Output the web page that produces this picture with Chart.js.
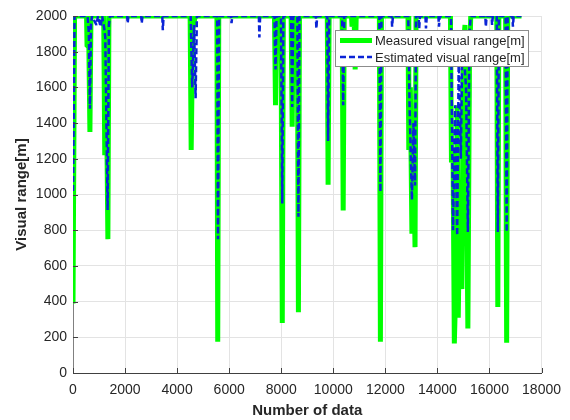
<!DOCTYPE html>
<html>
<head>
<meta charset="utf-8">
<script src="https://cdn.jsdelivr.net/npm/chart.js@4.4.0/dist/chart.umd.min.js"></script>
<style>
  body { margin: 0; background: #fff; }
  #wrap { width: 570px; height: 420px; }
</style>
</head>
<body>
<div id="wrap"><canvas id="rangeChart" width="570" height="420"></canvas></div>
<script>
// Values (sample index, visual range in m)
const measuredX = [0, 60, 520, 540, 610, 650, 690, 1180, 1220, 1290, 1340, 1380,
    4500, 4540, 4600, 4700, 5530, 5560, 5600, 7740, 7780, 7820, 7990, 8040, 8080,
    8380, 8420, 8460, 8620, 8660, 8700, 9770, 9800, 9840, 10340, 10380, 10420,
    10700, 10720, 10760, 10800, 10840, 10880, 11770, 11810, 11850,
    12870, 12900, 12960, 13020, 13080, 13140, 13180,
    14500, 14540, 14600, 14650, 14700, 14760, 14800, 14860, 14940, 15000, 15060,
    15110, 15170, 15230, 15280, 16280, 16320, 16360, 16620, 16660, 16700, 17230];
const measuredY = [390, 2000, 2000, 1830, 1830, 1350, 2000, 2000, 1220, 1500, 750, 2000,
    2000, 1250, 1930, 2000, 2000, 175, 2000, 2000, 1500, 2000, 2000, 280, 2000,
    2000, 1380, 2000, 2000, 340, 2000, 2000, 1055, 2000, 2000, 910, 2000,
    2000, 1940, 2000, 2000, 1700, 2000, 2000, 175, 2000,
    2000, 1250, 1600, 780, 1300, 705, 2000,
    2000, 1180, 1250, 165, 450, 1500, 310, 950, 470, 1850, 1950,
    1300, 250, 1700, 2000, 2000, 370, 2000, 2000, 170, 2000, 2000];

const estimatedX = [0, 60, 560, 610, 650, 690, 730, 900, 960, 1060, 1120,
    1200, 1240, 1330, 1380, 1420, 2080, 2100, 2130, 2620, 2640, 2670, 3430, 3450, 3480,
    4520, 4580, 4650, 4710, 4760, 5540, 5570, 5610, 6070, 6090, 6120, 7140, 7160, 7190,
    7740, 7780, 7820, 7990, 8040, 8080, 8380, 8420, 8460, 8620, 8660, 8700,
    9330, 9350, 9380, 9770, 9800, 9840, 10340, 10380, 10420, 11770, 11810, 11850,
    12240, 12260, 12290, 12880, 12930, 13020, 13080, 13140, 13180,
    13280, 13300, 13330, 13540, 13560, 13590, 14040, 14060, 14090,
    14520, 14600, 14680, 14760, 14820, 14900, 14960, 15100, 15170, 15230, 15280,
    15840, 15860, 15890, 16080, 16100, 16130, 16280, 16320, 16360,
    16620, 16660, 16700, 16880, 16900, 16930, 17230];
const estimatedY = [1020, 2000, 2000, 1900, 1480, 1950, 2000, 1950, 2000, 1940, 2000,
    1930, 1880, 913, 1950, 2000, 2000, 1960, 2000, 2000, 1960, 2000, 2000, 1920, 2000,
    2000, 1600, 1950, 1540, 2000, 2000, 750, 2000, 2000, 1960, 2000, 2000, 1880, 2000,
    2000, 1700, 2000, 2000, 950, 2000, 2000, 1490, 2000, 2000, 875, 2000,
    2000, 1930, 2000, 2000, 1300, 2000, 2000, 1500, 2000, 2000, 1015, 2000,
    2000, 1940, 2000, 2000, 1500, 970, 1400, 1050, 2000,
    2000, 1930, 2000, 2000, 1930, 2000, 2000, 1940, 2000,
    2000, 800, 1500, 770, 1800, 1200, 1900, 1600, 790, 1900, 2000,
    2000, 1940, 2000, 2000, 1950, 2000, 2000, 790, 2000,
    2000, 790, 2000, 2000, 1940, 2000, 2000];

const seriesLabels = ['Measured visual range[m]', 'Estimated visual range[m]'];
const xTitle = 'Number of data';
const yTitle = 'Visual range[m]';
const xTicks = [0, 2000, 4000, 6000, 8000, 10000, 12000, 14000, 16000, 18000];
const yTicks = [0, 200, 400, 600, 800, 1000, 1200, 1400, 1600, 1800, 2000];

const GREEN = 'rgb(0,255,0)';
const BLUE = '#0b24d6';
const FONT = '"Liberation Sans", Arial, sans-serif';

function toPoints(xs, ys) {
    return xs.map(function (x, i) { return { x: x, y: ys[i] }; });
}

// MATLAB-like legend box sitting inside the plot
const boxLegend = {
    id: 'boxLegend',
    afterDraw: function (chart) {
        const ctx = chart.ctx;
        const bx = 335, by = 30, bw = 193, bh = 36;
        ctx.save();
        ctx.fillStyle = '#fff';
        ctx.fillRect(bx, by, bw, bh);
        ctx.strokeStyle = '#8c8c8c';
        ctx.lineWidth = 1;
        ctx.strokeRect(bx + 0.5, by + 0.5, bw, bh);
        ctx.font = '13px ' + FONT;
        ctx.textBaseline = 'middle';
        ctx.fillStyle = '#262626';
        chart.data.datasets.forEach(function (ds, i) {
            const cy = by + 10.5 + i * 16.5;
            ctx.beginPath();
            ctx.strokeStyle = ds.borderColor;
            ctx.lineWidth = ds.borderWidth;
            ctx.setLineDash(ds.borderDash || []);
            ctx.moveTo(340, cy);
            ctx.lineTo(372, cy);
            ctx.stroke();
            ctx.setLineDash([]);
            ctx.fillText(ds.label, 375, cy + 1);
        });
        ctx.restore();
    }
};

// small inward tick marks on the left and bottom axes
const innerTicks = {
    id: 'innerTicks',
    afterDatasetsDraw: function (chart) {
        const ctx = chart.ctx;
        const a = chart.chartArea;
        ctx.save();
        ctx.strokeStyle = '#404040';
        ctx.lineWidth = 1;
        ctx.beginPath();
        xTicks.forEach(function (v) {
            const px = Math.round(chart.scales.x.getPixelForValue(v)) + 0.5;
            ctx.moveTo(px, a.bottom);
            ctx.lineTo(px, a.bottom - 5);
        });
        yTicks.forEach(function (v) {
            const py = Math.round(chart.scales.y.getPixelForValue(v)) + 0.5;
            ctx.moveTo(a.left, py);
            ctx.lineTo(a.left + 5, py);
        });
        ctx.stroke();
        ctx.restore();
    }
};

function plainNumber(v) { return String(v); }

new Chart(document.getElementById('rangeChart'), {
    type: 'line',
    data: {
        datasets: [{
            label: seriesLabels[0],
            data: toPoints(measuredX, measuredY),
            borderColor: GREEN,
            borderWidth: 5,
            borderJoinStyle: 'bevel',
            pointRadius: 0,
            tension: 0,
            fill: false,
            order: 2
        }, {
            label: seriesLabels[1],
            data: toPoints(estimatedX, estimatedY),
            borderColor: BLUE,
            borderWidth: 2.5,
            borderDash: [6, 3],
            borderJoinStyle: 'bevel',
            pointRadius: 0,
            tension: 0,
            fill: false,
            order: 1
        }]
    },
    options: {
        responsive: false,
        animation: false,
        events: [],
        layout: { padding: { left: 0, right: 27, top: 16, bottom: 0 } },
        plugins: {
            legend: { display: false },
            tooltip: { enabled: false }
        },
        scales: {
            x: {
                type: 'linear',
                min: 0,
                max: 18000,
                afterBuildTicks: function (s) { s.ticks = xTicks.map(function (v) { return { value: v }; }); },
                afterFit: function (s) { s.height = 47; },
                grid: { color: '#e3e3e3', drawTicks: false, tickLength: 0 },
                border: { color: '#404040' },
                ticks: { color: '#262626', font: { family: FONT, size: 14 }, padding: 9, maxRotation: 0, callback: plainNumber },
                title: { display: true, text: xTitle, color: '#262626',
                    font: { family: FONT, size: 15, weight: 'bold' }, padding: { top: 2, bottom: 0 } }
            },
            y: {
                min: 0,
                max: 2000,
                afterBuildTicks: function (s) { s.ticks = yTicks.map(function (v) { return { value: v }; }); },
                afterFit: function (s) { s.width = 73; },
                grid: { color: '#e3e3e3', drawTicks: false, tickLength: 0 },
                border: { color: '#808080' },
                ticks: { color: '#262626', font: { family: FONT, size: 14 }, padding: 6, callback: plainNumber },
                title: { display: true, text: yTitle, color: '#262626',
                    font: { family: FONT, size: 15, weight: 'bold' }, padding: { top: 13, bottom: 0 } }
            }
        }
    },
    plugins: [innerTicks, boxLegend]
});
</script>
</body>
</html>
